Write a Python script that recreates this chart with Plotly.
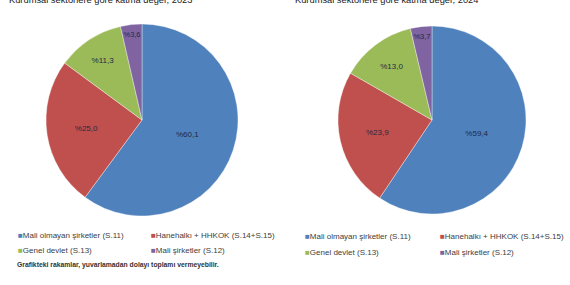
import plotly.graph_objects as go

categories = ["Mali olmayan şirketler (S.11)", "Hanehalkı + HHKOK (S.14+S.15)",
              "Genel devlet (S.13)", "Mali şirketler (S.12)"]
values_2023 = [60.1, 25.0, 11.3, 3.6]
values_2024 = [59.4, 23.9, 13.0, 3.7]
colors = ["#4F81BD", "#C0504D", "#9BBB59", "#8064A2"]
titles = ["Kurumsal sektörlere göre katma değer, 2023",
          "Kurumsal sektörlere göre katma değer, 2024"]
note = "Grafikteki rakamlar, yuvarlamadan dolayı toplamı vermeyebilir."

W, H = 570, 285
FONT = "Arial, Liberation Sans, sans-serif"

def fmt(v):
    return "%" + f"{v:.1f}".replace(".", ",")

fig = go.Figure()
pies = [
    (values_2023, (142, 120, 96)),
    (values_2024, (432, 120, 94)),
]
for vals, (cx, cy, r) in pies:
    fig.add_trace(go.Pie(
        labels=categories, values=vals,
        text=[fmt(v) for v in vals], textinfo="text",
        textposition="inside", insidetextorientation="horizontal",
        textfont=dict(family=FONT, size=8, color="#1f2a44"),
        marker=dict(colors=colors, line=dict(color="rgba(255,255,255,0.6)", width=0.6)),
        sort=False, direction="clockwise", rotation=0,
        hole=0, showlegend=False,
        domain=dict(x=[(cx - r) / W, (cx + r) / W],
                    y=[1 - (cy + r) / H, 1 - (cy - r) / H]),
    ))

ann = []
# titles (cut at top edge as in the reference)
for tx, t in zip([7, 293], titles):
    ann.append(dict(text=t, x=tx / W, y=1 - 0 / H, xref="paper", yref="paper",
                    xanchor="left", yanchor="middle", showarrow=False,
                    font=dict(family=FONT, size=9.3, color="#222222")))

# legends
legend_layout = [
    ([(16, 235), (149, 235), (16, 250), (149, 250)]),
    ([(303, 236), (438, 236), (303, 252), (438, 252)]),
]
for pos in legend_layout:
    for (lx, ly), cat, col in zip(pos, categories, colors):
        ann.append(dict(text=f"<span style='color:{col}'>■</span>{cat}",
                        x=lx / W, y=1 - ly / H, xref="paper", yref="paper",
                        xanchor="left", yanchor="middle", showarrow=False,
                        font=dict(family=FONT, size=8, color="#404040")))

ann.append(dict(text=f"<b>{note}</b>", x=15 / W, y=1 - 265 / H, xref="paper", yref="paper",
                xanchor="left", yanchor="middle", showarrow=False,
                font=dict(family=FONT, size=6.8, color="#333333")))

fig.update_layout(width=W, height=H, margin=dict(l=0, r=0, t=0, b=0, autoexpand=False),
                  paper_bgcolor="white", plot_bgcolor="white", annotations=ann)

fig.write_html("out.html")
